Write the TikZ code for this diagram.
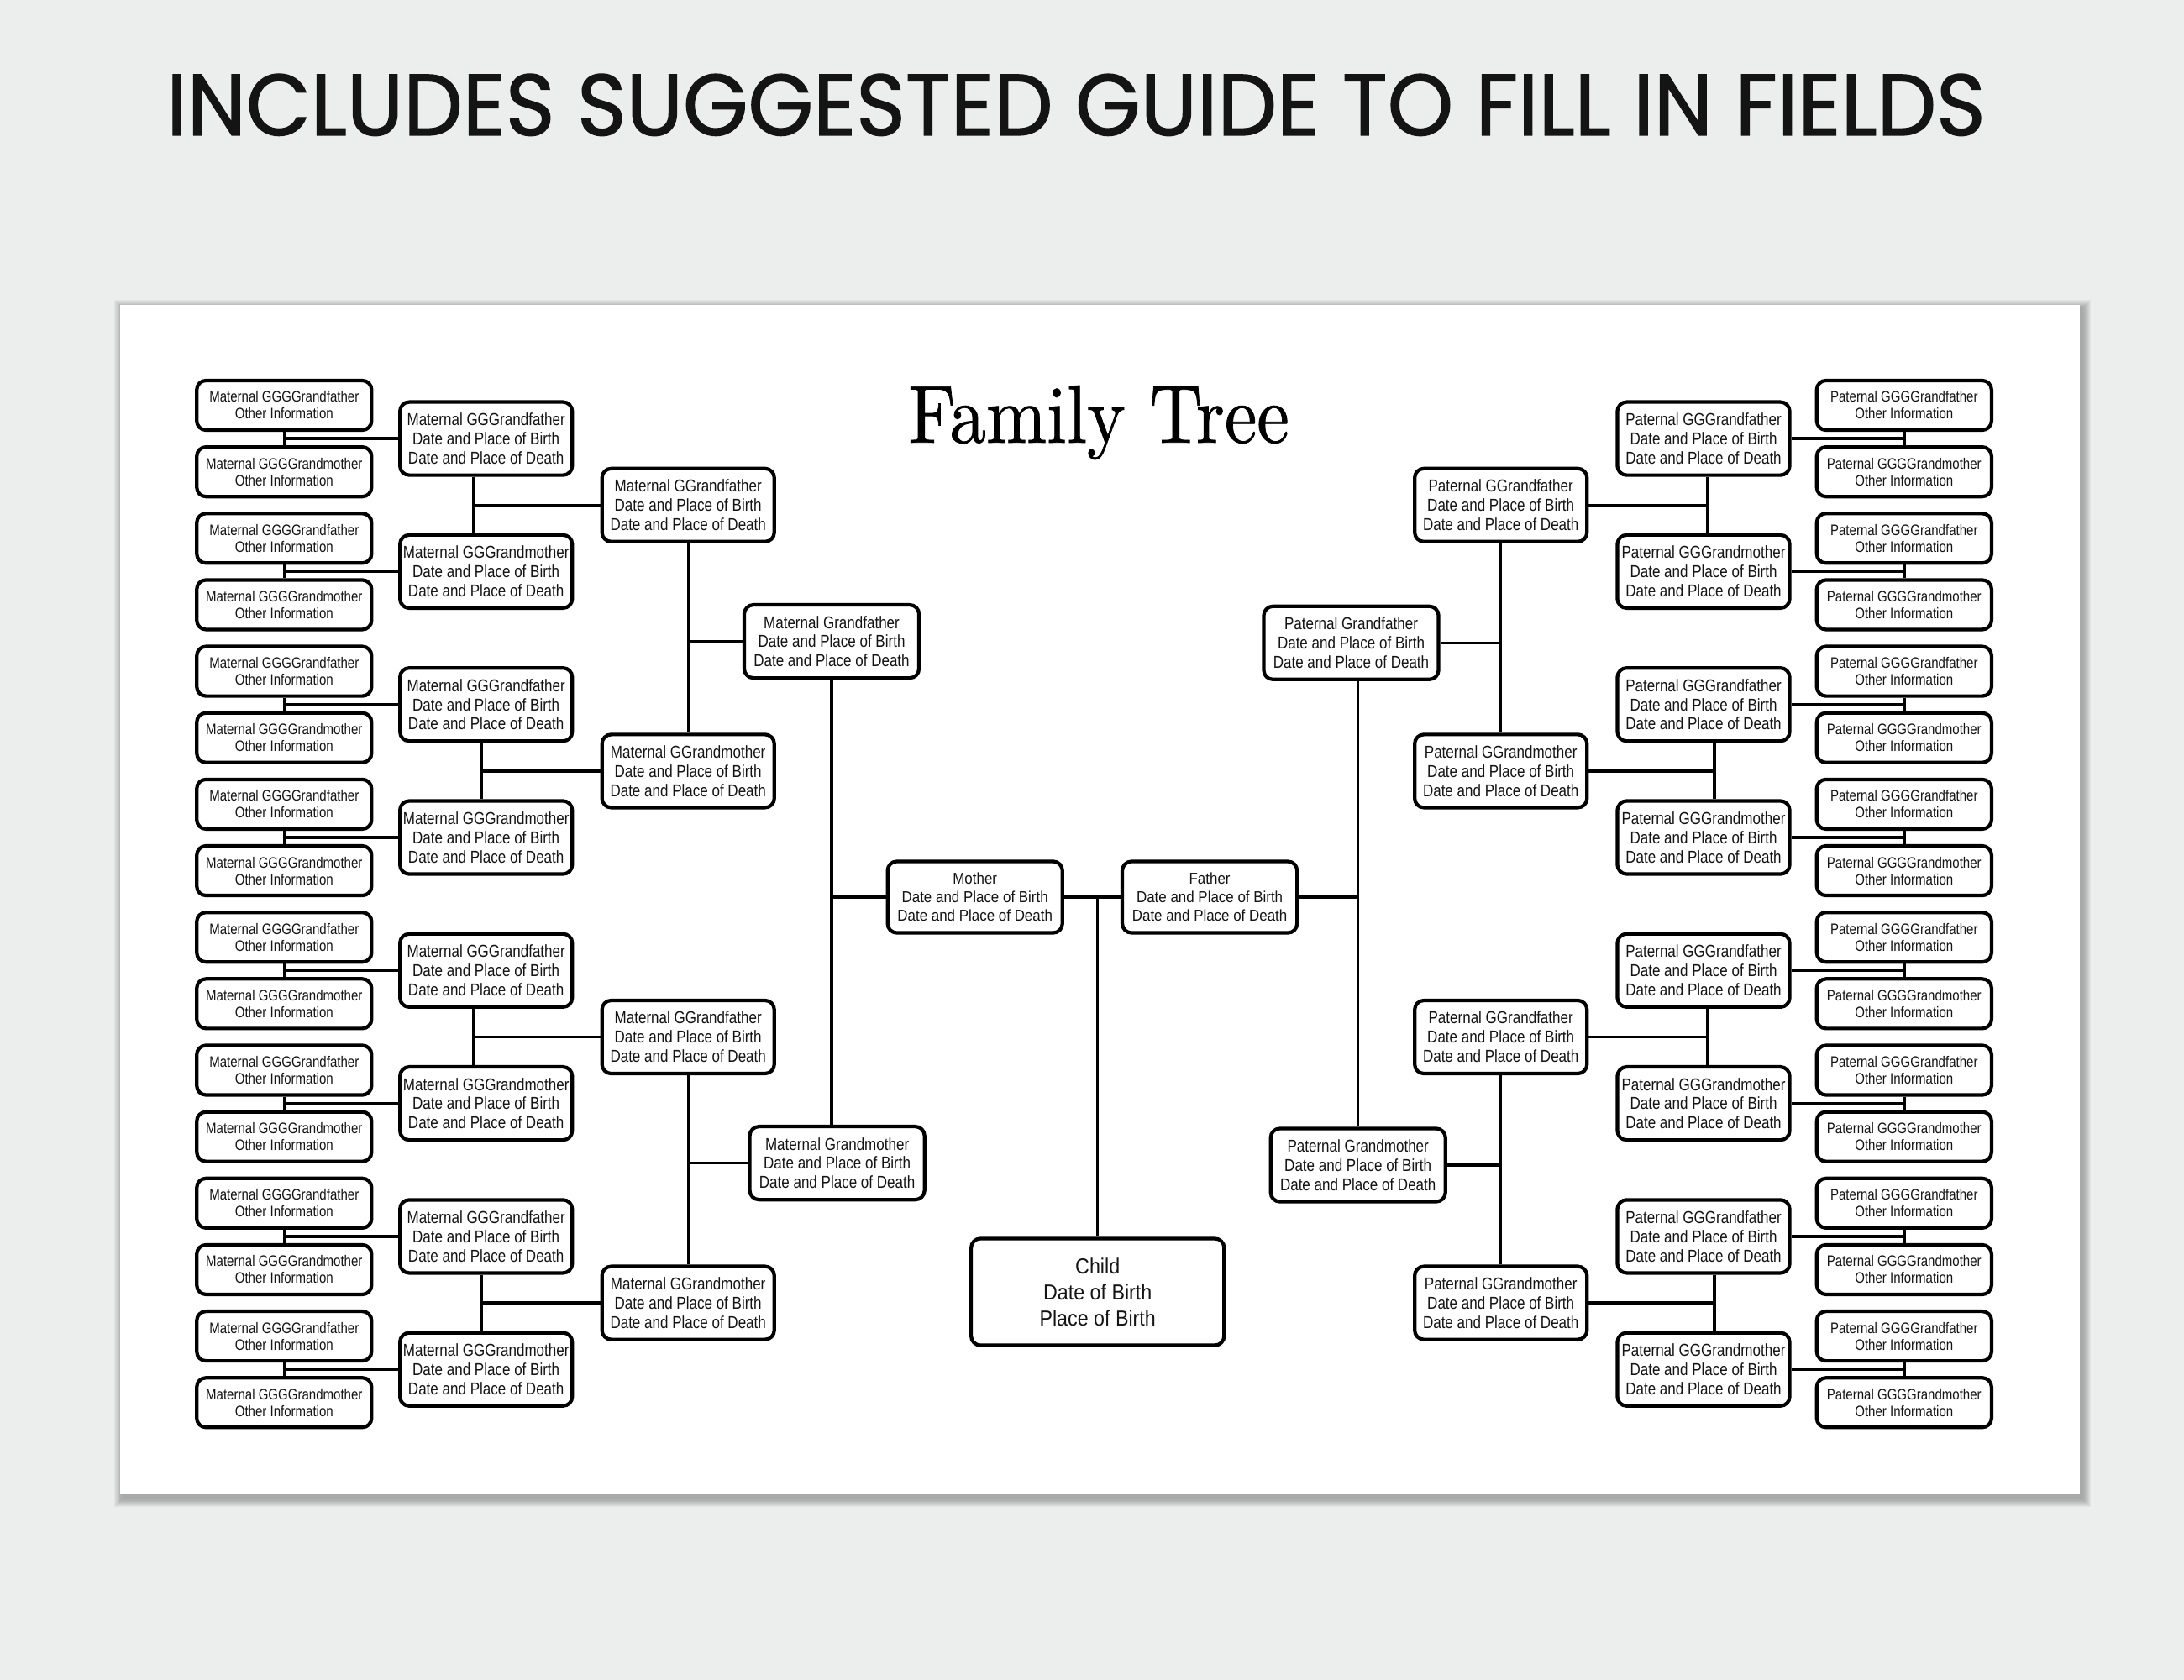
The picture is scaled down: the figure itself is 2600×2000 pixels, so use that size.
\documentclass[tikz,border=0pt]{standalone}
\usepackage{fontspec}
\usepackage{graphicx}
\newfontfamily\narrowfont{Liberation Sans}[FakeStretch=0.83]
\newfontfamily\wideboxfont{Liberation Sans}[FakeStretch=0.90]
\newfontfamily\hdrfont{Poppins}[FakeBold=1.3]
\newfontfamily\titlefont{Latin Modern Roman}[FakeBold=0.8]
\definecolor{bggray}{RGB}{236,238,237}
\definecolor{ink}{RGB}{20,20,20}
\tikzset{
  box/.style={draw=black, line width=1.2pt, rounded corners=0.11cm, fill=white,
    align=center, inner sep=0.5pt, text=ink},
  oggg/.style={box, minimum width=2.08cm, minimum height=0.59cm,
    font={\narrowfont\fontsize{5.15pt}{5.7pt}\selectfont}},
  ggbox/.style={box, minimum width=2.05cm, minimum height=0.87cm,
    font={\narrowfont\fontsize{5.83pt}{6.5pt}\selectfont}},
  gpbox/.style={box, minimum width=2.08cm, minimum height=0.87cm,
    font={\narrowfont\fontsize{5.83pt}{6.5pt}\selectfont}},
  parbox/.style={box, minimum width=2.08cm, minimum height=0.85cm,
    font={\wideboxfont\fontsize{5.35pt}{6.3pt}\selectfont}},
  childbox/.style={box, minimum width=3.01cm, minimum height=1.27cm,
    font={\wideboxfont\fontsize{7.35pt}{8.8pt}\selectfont}},
  conn/.style={draw=black, line width=0.95pt},
}
\begin{document}
\begin{tikzpicture}[x=0.01cm,y=-0.01cm]
\useasboundingbox (0,0) rectangle (2600,2000);
\fill[bggray] (0,0) rectangle (2600,2000);
% header
\node[anchor=base, inner sep=0, text=ink] (hdr) at (1281,161)
  {\resizebox{21.64cm}{0.73cm}{\hdrfont INCLUDES SUGGESTED GUIDE TO FILL IN FIELDS}};
% panel shadow and panel
\foreach \i in {1,...,8} {
  \fill[black, opacity=0.04] ({146-\i*1.3},{367-\i*1.3}) rectangle ({2479+\i*1.3},{1784+\i*1.3});
}
\fill[white] (143,363) rectangle (2476,1779);
% title
\node[anchor=base, inner sep=0, text=black] (title) at (1308,527)
  {\resizebox{4.53cm}{0.68cm}{\titlefont Family Tree}};

% ---------- outermost boxes ----------
\foreach \p in {0,...,7} {
  \pgfmathsetmacro\ya{482.5+158.3*\p}
  \pgfmathsetmacro\yb{\ya+79.15}
  \node[oggg] (Lf\p) at (338.3,\ya) {Maternal GGGGrandfather\\Other Information};
  \node[oggg] (Lm\p) at (338.3,\yb) {Maternal GGGGrandmother\\Other Information};
  \node[oggg] (Rf\p) at (2266.8,\ya) {Paternal GGGGrandfather\\Other Information};
  \node[oggg] (Rm\p) at (2266.8,\yb) {Paternal GGGGrandmother\\Other Information};
  \pgfmathsetmacro\yc{522.1+158.3*\p}
  \ifodd\p
    \node[ggbox] (LGG\p) at (578.7,\yc) {Maternal GGGrandmother\\Date and Place of Birth\\Date and Place of Death};
    \node[ggbox] (RGG\p) at (2028,\yc) {Paternal GGGrandmother\\Date and Place of Birth\\Date and Place of Death};
  \else
    \node[ggbox] (LGG\p) at (578.7,\yc) {Maternal GGGrandfather\\Date and Place of Birth\\Date and Place of Death};
    \node[ggbox] (RGG\p) at (2028,\yc) {Paternal GGGrandfather\\Date and Place of Birth\\Date and Place of Death};
  \fi
  \draw[conn] (Lf\p.south) -- (Lm\p.north);
  \draw[conn] (LGG\p.west) -- (LGG\p.west -| Lf\p.south);
  \draw[conn] (Rf\p.south) -- (Rm\p.north);
  \draw[conn] (RGG\p.east) -- (RGG\p.east -| Rf\p.south);
}

% ---------- great-grandparents ----------
\foreach \m/\lvx/\rvx in {0/563.8/2033,1/573.7/2041,2/563.8/2033,3/573.7/2041} {
  \pgfmathsetmacro\yg{601.3+316.6*\m}
  \pgfmathtruncatemacro\ta{2*\m}
  \pgfmathtruncatemacro\tb{2*\m+1}
  \ifodd\m
    \node[ggbox] (LG\m) at (819.2,\yg) {Maternal GGrandmother\\Date and Place of Birth\\Date and Place of Death};
    \node[ggbox] (RG\m) at (1786.7,\yg) {Paternal GGrandmother\\Date and Place of Birth\\Date and Place of Death};
  \else
    \node[ggbox] (LG\m) at (819.2,\yg) {Maternal GGrandfather\\Date and Place of Birth\\Date and Place of Death};
    \node[ggbox] (RG\m) at (1786.7,\yg) {Paternal GGrandfather\\Date and Place of Birth\\Date and Place of Death};
  \fi
  \coordinate (LV\m) at (\lvx,\yg);
  \coordinate (RV\m) at (\rvx,\yg);
  \draw[conn] (LGG\ta.south -| LV\m) -- (LGG\tb.north -| LV\m);
  \draw[conn] (LG\m.west) -- (LG\m.west -| LV\m);
  \draw[conn] (RGG\ta.south -| RV\m) -- (RGG\tb.north -| RV\m);
  \draw[conn] (RG\m.east) -- (RG\m.east -| RV\m);
}

% ---------- grandparents ----------
\node[gpbox] (mgf) at (990,763.6) {Maternal Grandfather\\Date and Place of Birth\\Date and Place of Death};
\node[gpbox] (mgm) at (996.6,1384.6) {Maternal Grandmother\\Date and Place of Birth\\Date and Place of Death};
\node[gpbox] (pgf) at (1608.5,765.3) {Paternal Grandfather\\Date and Place of Birth\\Date and Place of Death};
\node[gpbox] (pgm) at (1616.7,1387) {Paternal Grandmother\\Date and Place of Birth\\Date and Place of Death};

\draw[conn] (LG0.south) -- (LG1.north);
\draw[conn] (mgf.west) -- (mgf.west -| LG0.south);
\draw[conn] (LG2.south) -- (LG3.north);
\draw[conn] (mgm.west) -- (mgm.west -| LG2.south);
\draw[conn] (RG0.south) -- (RG1.north);
\draw[conn] (pgf.east) -- (pgf.east -| RG0.south);
\draw[conn] (RG2.south) -- (RG3.north);
\draw[conn] (pgm.east) -- (pgm.east -| RG2.south);

% ---------- parents and child ----------
\node[parbox] (mother) at (1160.7,1068) {Mother\\Date and Place of Birth\\Date and Place of Death};
\node[parbox] (father) at (1440.1,1068) {Father\\Date and Place of Birth\\Date and Place of Death};
\node[childbox] (child) at (1306.7,1538) {Child\\Date of Birth\\Place of Birth};

\draw[conn] (mgf.south) -- (mgf.south |- mgm.north);
\draw[conn] (mother.west) -- (mother.west -| mgf.south);
\draw[conn] (pgm.north |- pgf.south) -- (pgm.north);
\draw[conn] (father.east) -- (father.east -| pgm.north);
\draw[conn] (mother.east) -- (father.west);
\draw[conn] (child.north) -- (child.north |- mother.east);
\end{tikzpicture}
\end{document}
